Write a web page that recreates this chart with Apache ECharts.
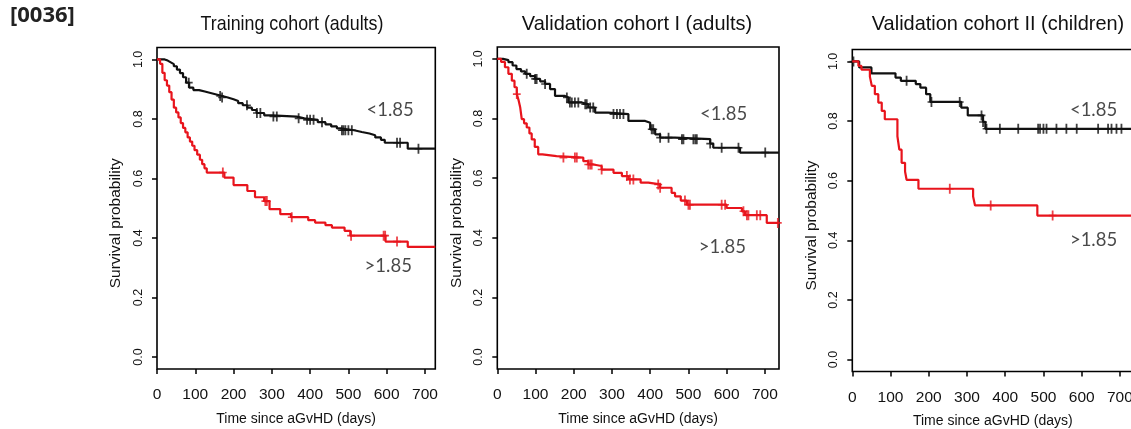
<!DOCTYPE html>
<html><head><meta charset="utf-8">
<script src="https://cdn.jsdelivr.net/npm/echarts@6/dist/echarts.min.js"></script>
<style>html,body{margin:0;padding:0;background:#fff}#c{width:1131px;height:429px}</style>
</head><body><div id="c"></div><script>
// ---------- data ----------
const panelTitles = ['Training cohort (adults)', 'Validation cohort I (adults)', 'Validation cohort II (children)'];
const xTicks = [0, 100, 200, 300, 400, 500, 600, 700];
const yTicks = [0, 0.2, 0.4, 0.6, 0.8, 1.0];
const xAxisName = 'Time since aGvHD (days)';
const yAxisName = 'Survival probability';
const lowLabel = '<1.85';
const highLabel = '>1.85';
const xMax = [727, 737, 735];

// Panel 1: training cohort
const p1LowT = [0,20,28,36,44,52,60,68,76,84,95,110,125,140,155,170,185,200,212,224,236,248,260,280,300,365,385,420,440,455,470,483,515,535,555,570,585,595,655];
const p1LowS = [1.0,0.996,0.99,0.984,0.977,0.966,0.954,0.94,0.922,0.905,0.897,0.892,0.887,0.882,0.877,0.872,0.866,0.86,0.853,0.846,0.838,0.83,0.82,0.812,0.808,0.802,0.797,0.789,0.782,0.775,0.768,0.762,0.756,0.751,0.745,0.738,0.73,0.72,0.70];
const p1LowCens = [83,165,170,235,261,270,304,313,370,392,400,409,431,483,487,492,500,509,627,635,683];
const p1HighT = [0,8,14,20,26,32,38,44,50,56,62,68,74,80,86,92,98,105,112,118,124,130,176,200,236,256,280,294,322,350,395,413,440,457,490,505,597,655];
const p1HighS = [1.0,0.985,0.955,0.93,0.912,0.89,0.865,0.838,0.822,0.805,0.786,0.77,0.755,0.738,0.724,0.71,0.695,0.68,0.663,0.648,0.634,0.62,0.603,0.578,0.558,0.537,0.524,0.497,0.48,0.47,0.46,0.452,0.443,0.435,0.424,0.408,0.388,0.37];
const p1HighCens = [172,283,287,352,507,592,596,627];

// Panel 2: validation cohort I
const p2LowT = [0,15,29,40,50,62,73,86,99,112,125,138,151,177,186,221,238,256,290,343,387,400,413,426,465,557,565,635];
const p2LowS = [1.0,0.996,0.989,0.978,0.966,0.958,0.95,0.942,0.933,0.925,0.916,0.899,0.876,0.871,0.854,0.848,0.837,0.82,0.815,0.792,0.786,0.764,0.747,0.736,0.731,0.716,0.702,0.686];
const p2LowCens = [77,99,103,125,182,190,195,203,212,230,234,243,251,304,313,321,330,404,408,426,448,483,487,513,518,522,557,587,631,701];
const p2HighT = [0,10,20,29,38,45,51,56,60,64,70,77,84,90,98,107,118,155,225,238,251,273,304,326,343,375,395,426,456,465,480,496,600,640,648,705];
const p2HighS = [1.0,0.99,0.972,0.95,0.927,0.905,0.882,0.86,0.837,0.798,0.784,0.77,0.75,0.73,0.705,0.68,0.674,0.669,0.657,0.646,0.641,0.629,0.618,0.607,0.596,0.585,0.579,0.568,0.551,0.539,0.525,0.511,0.50,0.489,0.476,0.45];
const p2HighCens = [51,173,203,208,238,243,247,273,339,347,356,421,426,491,500,504,587,596,644,653,657,679,688,734];

// Panel 3: validation cohort II
const p3LowT = [0,18,50,113,127,166,178,193,204,285,302,342,348];
const p3LowS = [1.0,0.98,0.96,0.946,0.935,0.924,0.912,0.89,0.864,0.845,0.819,0.797,0.774];
const p3LowCens = [3,142,207,281,338,342,351,386,434,486,491,500,508,534,560,587,643,669,678,691,704];
const p3HighT = [0,16,24,46,51,59,68,77,85,118,123,129,138,142,173,316,321,484];
const p3HighS = [1.0,0.985,0.972,0.949,0.918,0.89,0.862,0.834,0.806,0.749,0.704,0.66,0.631,0.603,0.573,0.547,0.517,0.483];
const p3HighCens = [255,362,524];

// curve label anchor positions (data coords: [day, survival])
const lowLabelPos = [[609, 0.829], [592, 0.815], [631, 0.838]];
const highLabelPos = [[604, 0.305], [589, 0.368], [631, 0.40]];

// ---------- build ----------
const panels = [
  {lowT: p1LowT, lowS: p1LowS, lowC: p1LowCens, highT: p1HighT, highS: p1HighS, highC: p1HighCens},
  {lowT: p2LowT, lowS: p2LowS, lowC: p2LowCens, highT: p2HighT, highS: p2HighS, highC: p2HighCens},
  {lowT: p3LowT, lowS: p3LowS, lowC: p3LowCens, highT: p3HighT, highS: p3HighS, highC: p3HighCens}
];
const gridBoxes = [
  {left: 157, top: 47.5, width: 278.3, height: 321.5},
  {left: 497.3, top: 47, width: 281.7, height: 322},
  {left: 852.3, top: 49.5, width: 281, height: 322}
];
const RED = '#e8141c', BLACK = '#111';
const SANS = '"Liberation Sans", Arial, sans-serif';
const CROSS = 'path://M3,0h1.8v10h-1.8z M0,4.2h7.8v1.6h-7.8z';

function stepData(T, S, xmax) {
  const d = T.map((t, i) => [t, S[i]]);
  d.push([xmax, S[S.length - 1]]);
  return d;
}
function survAt(T, S, t) {
  let v = S[0];
  for (let i = 0; i < T.length; i++) { if (T[i] <= t) v = S[i]; }
  return v;
}

const grids = [], xAxes = [], yAxes = [], series = [];
panels.forEach((p, k) => {
  grids.push(Object.assign({show: true, borderColor: '#000', borderWidth: 1.6, backgroundColor: 'transparent',
    outerBoundsMode: 'none', containLabel: false}, gridBoxes[k]));
  xAxes.push({
    type: 'value', gridIndex: k, min: 0, max: xMax[k],
    axisLine: {show: false, onZero: false}, splitLine: {show: false},
    axisTick: {show: true, length: 5, lineStyle: {color: '#000', width: 1.5}, customValues: xTicks},
    axisLabel: {color: '#111', fontFamily: SANS, fontSize: 15.5, margin: 18, customValues: xTicks},
    name: xAxisName, nameLocation: 'middle', nameGap: 43, nameMoveOverlap: false,
    nameTextStyle: {color: '#111', fontFamily: SANS, fontSize: 14}
  });
  yAxes.push({
    type: 'value', gridIndex: k, min: -0.04, max: 1.04,
    axisLine: {show: false, onZero: false}, splitLine: {show: false},
    axisTick: {show: true, length: 5, lineStyle: {color: '#000', width: 1.5}, customValues: yTicks},
    axisLabel: {color: '#111', fontFamily: SANS, fontSize: 12.5, rotate: 90, margin: 12,
      customValues: yTicks, formatter: v => v.toFixed(1)},
    name: yAxisName, nameLocation: 'middle', nameGap: 33, nameRotate: 90, nameMoveOverlap: false,
    nameTextStyle: {color: '#111', fontFamily: SANS, fontSize: 15.5, padding: [0, 30, 0, 0]}
  });
  const base = {xAxisIndex: k, yAxisIndex: k, animation: false, silent: true};
  series.push(Object.assign({type: 'line', step: 'end', showSymbol: false,
    data: stepData(p.lowT, p.lowS, xMax[k]), lineStyle: {color: BLACK, width: 2.2}}, base));
  series.push(Object.assign({type: 'line', step: 'end', showSymbol: false,
    data: stepData(p.highT, p.highS, xMax[k]), lineStyle: {color: RED, width: 2.2}}, base));
  series.push(Object.assign({type: 'scatter', symbol: CROSS, symbolSize: [7.8, 10],
    itemStyle: {color: BLACK}, data: p.lowC.map(t => [t, survAt(p.lowT, p.lowS, t)])}, base));
  series.push(Object.assign({type: 'scatter', symbol: CROSS, symbolSize: [7.8, 10],
    itemStyle: {color: RED}, data: p.highC.map(t => [t, survAt(p.highT, p.highS, t)])}, base));
  series.push(Object.assign({type: 'scatter', symbolSize: 0,
    label: {show: true, position: 'inside', color: '#1a1a1a', fontFamily: 'Lato, "Open Sans", sans-serif', fontSize: 18.5,
      formatter: q => q.data.name},
    data: [{name: lowLabel, value: lowLabelPos[k]}, {name: highLabel, value: highLabelPos[k]}]}, base));
});

const titleCenters = [292, 637, 998];
const titleScale = [0.85, 0.95, 0.95];
const graphics = panelTitles.map((t, k) => ({
  type: 'text', x: titleCenters[k], y: 24, scaleX: titleScale[k], silent: true,
  style: {text: t, font: '21px ' + SANS, fill: '#111', align: 'center', verticalAlign: 'middle'}
}));
graphics.push({type: 'text', x: 10, y: 16, silent: true,
  style: {text: '[0036]', font: 'bold 22px "Open Sans", sans-serif', fill: '#222', align: 'left', verticalAlign: 'middle'}});

const chart = echarts.init(document.getElementById('c'), null, {renderer: 'canvas'});
chart.setOption({
  animation: false,
  backgroundColor: '#fff',
  grid: grids, xAxis: xAxes, yAxis: yAxes, series: series, graphic: graphics
});
</script></body></html>
